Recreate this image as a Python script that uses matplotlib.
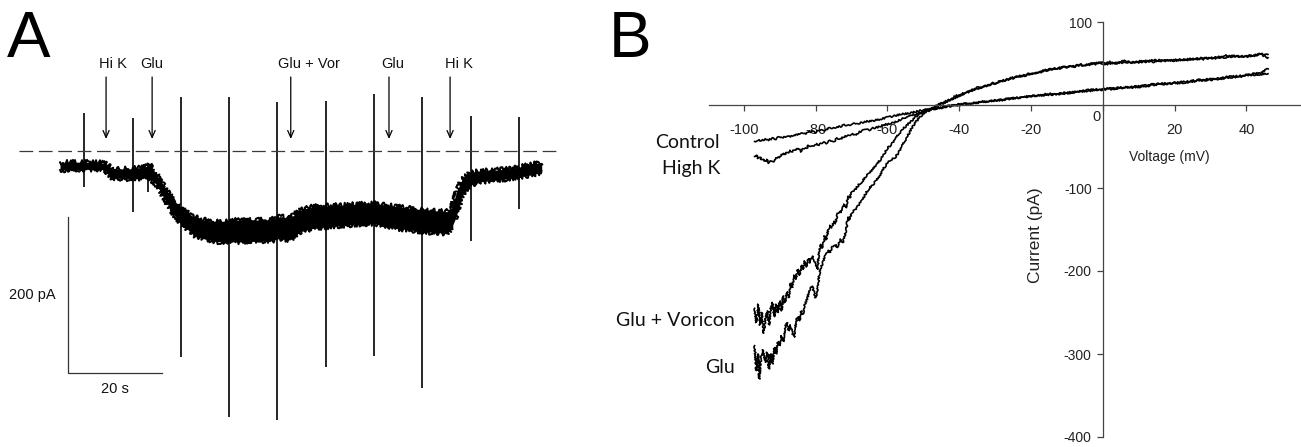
import numpy as np
import matplotlib
matplotlib.use("Agg")
import matplotlib.pyplot as plt

# ---------------- Panel A data (time s, current pA) ----------------
trace_t = [0, 4.9, 8.5, 9.8, 11.1, 14.9, 18.1, 19.1, 20.6, 22.0, 23.4, 24.8, 26.2,
           28.4, 30.5, 33.3, 38.3, 44.7, 46.8, 48.9, 51.1, 53.8, 61.0, 66.6, 71.6,
           77.3, 82.3, 83.3, 84.4, 85.5, 87.2, 89.4, 92.9, 96.4, 100.0, 102.5]
trace_upper = [-14.5, -14.5, -14.7, -16.7, -23.1, -23.1, -20.5, -16.7, -30.8, -43.6,
               -56.4, -67.1, -75.6, -84.2, -88.5, -90.6, -88.5, -88.5, -84.1, -86.3,
               -75.6, -71.4, -69.2, -67.1, -71.4, -75.6, -77.8, -73.5, -52.2, -37.2,
               -28.6, -25.6, -24.4, -22.2, -17.9, -14.5]
trace_lower = [-24.4, -23.7, -23.1, -25.6, -34.6, -35.9, -34.6, -34.6, -43.6, -58.6,
               -73.5, -86.3, -94.9, -107.7, -111.9, -116.3, -116.3, -115.4, -111.9,
               -114.1, -103.5, -99.1, -94.9, -92.7, -99.1, -103.5, -105.5, -99.1,
               -82.1, -56.4, -43.6, -39.4, -37.2, -35.0, -30.8, -27.3]

spike_t = [5.1, 15.5, 18.7, 25.7, 36.0, 46.2, 56.6, 66.8, 77.0, 87.4, 97.7]
spike_top = [48.3, 41.9, -23.0, 68.8, 68.8, 63.2, 64.1, 73.1, 68.8, 45.3, 43.6]
spike_bottom = [-45.8, -77.8, -52.6, -264.5, -341.4, -344.9, -277.3, -262.8, -304.2, -115.0, -74.0]

arrow_t = [9.8, 19.6, 49.1, 70.0, 83.0]
arrow_labels = ["Hi K", "Glu", "Glu + Vor", "Glu", "Hi K"]
label_t = [8.25, 17.1, 46.3, 68.4, 81.9]

# ---------------- Panel B data (voltage mV, current pA) ----------------
control = np.array([
    (-97, -44), (-96, -42), (-95, -43), (-94, -41), (-93, -42), (-92, -40), (-91, -41),
    (-90, -38), (-89, -39), (-88, -37), (-87, -38), (-86, -36), (-85, -36), (-84, -34),
    (-83, -35), (-82, -33), (-81, -32), (-80, -33), (-79, -30), (-78, -31), (-77, -29),
    (-76, -28), (-75, -28), (-74, -26), (-73, -26), (-72, -24), (-71, -25), (-70, -23),
    (-68, -22), (-66, -20), (-64, -19), (-62, -17), (-60, -15), (-58, -13), (-56, -11),
    (-54, -10), (-52, -8), (-50, -6), (-48, -5), (-46, -4), (-44, -3), (-42, -1),
    (-40, 0), (-37, 2), (-34, 3), (-31, 5), (-28, 6), (-25, 8), (-22, 9), (-19, 11),
    (-16, 12), (-13, 13), (-10, 14), (-7, 16), (-4, 17), (-1, 18), (2, 19), (5, 20),
    (8, 21), (11, 22), (14, 24), (17, 25), (20, 26), (23, 27), (26, 29), (29, 30),
    (32, 31), (35, 33), (38, 34), (41, 36), (44, 37), (46, 38)])

high_k = np.array([
    (-97, -62), (-96.5, -60), (-96, -64), (-95.5, -63), (-95, -66), (-94.5, -65),
    (-94, -68), (-93.5, -66), (-93, -70), (-92.5, -68), (-92, -69), (-91.5, -66),
    (-91, -64), (-90.5, -62), (-90, -63), (-89.5, -60), (-89, -58), (-88.5, -60),
    (-88, -57), (-87.5, -58), (-87, -55), (-86.5, -57), (-86, -54), (-85.5, -55),
    (-85, -52), (-84.5, -54), (-84, -56), (-83.5, -53), (-83, -51), (-82.5, -52),
    (-82, -49), (-81, -50), (-80, -47), (-79, -48), (-78, -45), (-77, -46), (-76, -43),
    (-75, -44), (-74, -40), (-73, -41), (-72, -38), (-71, -37), (-70, -35), (-69, -36),
    (-68, -33), (-67, -31), (-66, -30), (-65, -30), (-64, -28), (-63, -27), (-62, -26),
    (-61, -24), (-60, -23), (-59, -22), (-58, -21), (-57, -19), (-56, -17), (-55, -15),
    (-54, -14), (-53, -12), (-52, -11), (-50, -8), (-48, -6), (-46, -4), (-44, -2),
    (-42, 0), (-40, 1), (-37, 2), (-34, 4), (-31, 5), (-28, 7), (-25, 8), (-22, 10),
    (-19, 11), (-16, 13), (-13, 14), (-10, 15), (-7, 16), (-4, 18), (-1, 19), (2, 20),
    (5, 21), (8, 22), (11, 23), (14, 25), (17, 26), (20, 27), (23, 28), (26, 30),
    (29, 31), (32, 32), (35, 34), (38, 35), (41, 37), (44, 39), (46, 44)])

glu_vor = np.array([
    (-97, -245), (-96.5, -262), (-96, -240), (-95.5, -265), (-95, -250), (-94.5, -275),
    (-94, -258), (-93.5, -248), (-93, -265), (-92.5, -245), (-92, -238), (-91.5, -255),
    (-91, -240), (-90.5, -250), (-90, -236), (-89.5, -248), (-89, -230), (-88.5, -238),
    (-88, -225), (-87.5, -232), (-87, -215), (-86.5, -220), (-86, -205), (-85.5, -210),
    (-85, -198), (-84.5, -205), (-84, -193), (-83.5, -198), (-83, -188), (-82.5, -195),
    (-82, -185), (-81.5, -190), (-81, -182), (-80.5, -186), (-80, -192), (-79.5, -198),
    (-79, -175), (-78.5, -168), (-78, -172), (-77.5, -158), (-77, -162), (-76.5, -150),
    (-76, -145), (-75.5, -148), (-75, -140), (-74.5, -143), (-74, -132), (-73.5, -128),
    (-73, -130), (-72.5, -122), (-72, -120), (-71.5, -124), (-71, -110), (-70.5, -112),
    (-70, -106), (-69, -102), (-68, -96), (-67, -92), (-66, -86), (-65, -82), (-64, -76),
    (-63, -72), (-62, -66), (-61, -60), (-60, -52), (-59, -48), (-58, -42), (-57, -36),
    (-56, -30), (-55, -26), (-54, -22), (-53, -18), (-52, -14), (-51, -11), (-50, -9),
    (-49, -7), (-48, -5), (-47, -3), (-46, 0), (-45, 2), (-44, 4), (-43, 6), (-42, 8),
    (-41, 11), (-40, 12), (-39, 14), (-38, 16), (-37, 17), (-36, 19), (-35, 21),
    (-34, 22), (-33, 23), (-32, 25), (-31, 26), (-30, 27), (-29, 28), (-28, 30),
    (-27, 30), (-26, 32), (-25, 33), (-24, 34), (-23, 34), (-22, 36), (-21, 37),
    (-20, 38), (-19, 38), (-18, 40), (-17, 41), (-16, 42), (-15, 42), (-14, 44),
    (-13, 44), (-12, 45), (-11, 45), (-10, 46), (-9, 46), (-8, 47), (-7, 48), (-6, 48),
    (-5, 48), (-4, 49), (-3, 50), (-2, 49), (-1, 51), (0, 50), (1, 49), (2, 50), (3, 51),
    (4, 50), (6, 51), (8, 52), (10, 51), (12, 53), (14, 52), (16, 53), (18, 54),
    (20, 53), (22, 55), (24, 54), (26, 56), (28, 55), (30, 57), (32, 56), (34, 60),
    (36, 58), (38, 59), (40, 58), (42, 60), (44, 61), (45, 59), (46, 57)])

glu = np.array([
    (-97, -290), (-96.5, -320), (-96, -300), (-95.7, -330), (-95.2, -305), (-94.7, -295),
    (-94, -310), (-93.5, -298), (-93, -318), (-92.5, -300), (-92, -312), (-91.5, -292),
    (-91, -300), (-90.5, -285), (-90, -290), (-89.5, -278), (-89, -285), (-88.5, -268),
    (-88, -262), (-87.5, -272), (-87, -265), (-86.5, -275), (-86, -280), (-85.5, -262),
    (-85, -255), (-84.5, -260), (-84, -248), (-83.5, -252), (-83, -240), (-82.5, -235),
    (-82, -228), (-81.5, -222), (-81, -218), (-80.5, -225), (-80, -232), (-79.5, -225),
    (-79, -205), (-78.5, -195), (-78, -190), (-77.5, -183), (-77, -180), (-76.5, -175),
    (-76, -178), (-75.5, -172), (-75, -170), (-74.5, -168), (-74, -172), (-73.5, -165),
    (-73, -162), (-72.5, -166), (-72, -160), (-71.5, -150), (-71, -135), (-70.5, -138),
    (-70, -130), (-69, -126), (-68, -120), (-67, -115), (-66, -106), (-65, -100),
    (-64, -96), (-63, -90), (-62, -84), (-61, -76), (-60, -70), (-59, -66), (-58, -64),
    (-57, -58), (-56, -50), (-55, -42), (-54, -34), (-53, -26), (-52, -20), (-51, -15),
    (-50, -11), (-49, -8), (-48, -6), (-47, -4), (-46, -2), (-45, 1), (-44, 3), (-43, 5),
    (-42, 7), (-41, 9), (-40, 11), (-39, 13), (-38, 15), (-37, 16), (-36, 18), (-35, 19),
    (-34, 21), (-33, 22), (-32, 24), (-31, 25), (-30, 26), (-29, 28), (-28, 29),
    (-27, 30), (-26, 31), (-25, 32), (-24, 33), (-23, 35), (-22, 35), (-21, 36),
    (-20, 37), (-19, 39), (-18, 39), (-17, 40), (-16, 41), (-15, 43), (-14, 43),
    (-13, 44), (-12, 44), (-11, 46), (-10, 45), (-9, 47), (-8, 46), (-7, 47), (-6, 49),
    (-5, 48), (-4, 48), (-3, 49), (-2, 51), (-1, 50), (0, 52), (1, 51), (2, 52), (3, 50),
    (4, 52), (6, 53), (8, 51), (10, 53), (12, 52), (14, 54), (16, 54), (18, 53),
    (20, 55), (22, 54), (24, 56), (26, 55), (28, 57), (30, 56), (32, 58), (34, 57),
    (36, 60), (38, 58), (40, 60), (42, 59), (44, 62), (45, 60), (46, 61)])

curve_labels = ["Control", "High K", "Glu + Voricon", "Glu"]
xticks_b = [-100, -80, -60, -40, -20, 0, 20, 40]
yticks_b = [-400, -300, -200, -100, 100]

# ---------------- Figure ----------------
W, H = 1301, 447
fig = plt.figure(figsize=(W / 100, H / 100), dpi=100)
ARIAL = "Liberation Sans"

# Panel A (invisible axes, data coords: s and pA)
axA = fig.add_axes([0, 0, 600 / W, 1])
axA.set_xlim(-12.77, 114.9)
axA.set_ylim(-379.5, 193.6)
axA.axis("off")

band = axA.fill_between(trace_t, trace_lower, trace_upper, color="black", lw=0)
band.set_sketch_params(scale=1.5, length=2, randomness=3)
# jagged noisy edges of the recording band (rendering style only)
for edge, sc in ((trace_upper, 2.5), (trace_lower, 2.5)):
    ln, = axA.plot(trace_t, edge, color="black", lw=1.4)
    ln.set_sketch_params(scale=sc, length=1.5, randomness=4)

axA.vlines(spike_t, spike_bottom, spike_top, color="black", lw=1.2)

dash = axA.axhline(0, xmin=(-8.8 + 12.77) / 127.67, xmax=(106.7 + 12.77) / 127.67,
                   color="#3a3a3a", lw=0.9)
dash.set_dashes([11, 4.5])

for t in arrow_t:
    axA.annotate("", xy=(t, 15.4), xytext=(t, 94.9),
                 arrowprops=dict(arrowstyle="->,head_length=0.5,head_width=0.22",
                                 color="black", lw=0.9, shrinkA=0, shrinkB=0))
for t, lab in zip(label_t, arrow_labels):
    axA.text(t, 106.8, lab, ha="left", va="baseline", fontsize=10.5,
             family=ARIAL, color="#111111")

# scale bars
axA.plot([1.7, 1.7, 21.7], [-85, -285, -285], color="#333333", lw=0.9)
axA.text(-10.8, -189.7, "200 pA", ha="left", va="baseline", fontsize=10.5,
         family=ARIAL, color="#111111")
axA.text(8.7, -309.9, "20 s", ha="left", va="baseline", fontsize=10.5,
         family=ARIAL, color="#111111")

fig.text(7 / W, (H - 57) / H, "A", fontsize=47, family=ARIAL, ha="left",
         va="baseline")
fig.text(609 / W, (H - 57) / H, "B", fontsize=46, family=ARIAL, ha="left",
         va="baseline")

# Panel B
axB = fig.add_axes([709 / W, 10 / H, 592 / W, 415 / H])
axB.set_xlim(-109.7, 55.2)
axB.set_ylim(-400, 100)
for s in ["top", "right"]:
    axB.spines[s].set_visible(False)
axB.spines["left"].set_position(("data", 0))
axB.spines["bottom"].set_position(("data", 0))
for s in ["left", "bottom"]:
    axB.spines[s].set_color("#444444")
    axB.spines[s].set_linewidth(0.9)
axB.patch.set_alpha(0)

axB.set_xticks(xticks_b)
axB.set_xticklabels([str(v) if v != 0 else "" for v in xticks_b])
axB.set_yticks(yticks_b)
axB.set_yticklabels([str(v) for v in yticks_b])
axB.tick_params(axis="x", direction="out", length=4, width=0.9, color="#444444",
                pad=9, labelsize=10.5, labelcolor="#222222")
axB.tick_params(axis="y", direction="out", length=4, width=0.9, color="#444444",
                pad=4, labelsize=10, labelcolor="#222222")
for lab in axB.get_xticklabels() + axB.get_yticklabels():
    lab.set_family(ARIAL)
axB.text(-1.7, -14.5, "0", ha="center", va="center", fontsize=10.5, family=ARIAL,
         color="#222222")

for arr in (control, high_k, glu_vor, glu):
    ln, = axB.plot(arr[:, 0], arr[:, 1], color="black", lw=1.2)
    ln.set_sketch_params(scale=0.8, length=2, randomness=3)

axB.text(18.4, -62.7, "Voltage (mV)", ha="center", va="center", fontsize=10,
         family=ARIAL, color="#222222")
axB.text(-18.7, -156.6, "Current (pA)", ha="center", va="center", fontsize=12.5,
         family=ARIAL, rotation=90, color="#222222")

label_v = [-106.6, -106.6, -102.6, -102.6]
label_i = [-51.8, -83.0, -266.0, -322.5]
for v, i, lab in zip(label_v, label_i, curve_labels):
    axB.text(v, i, lab, ha="right", va="baseline", fontsize=14, family="Lato",
             color="#111111")

fig.savefig("out.png", dpi=100)
